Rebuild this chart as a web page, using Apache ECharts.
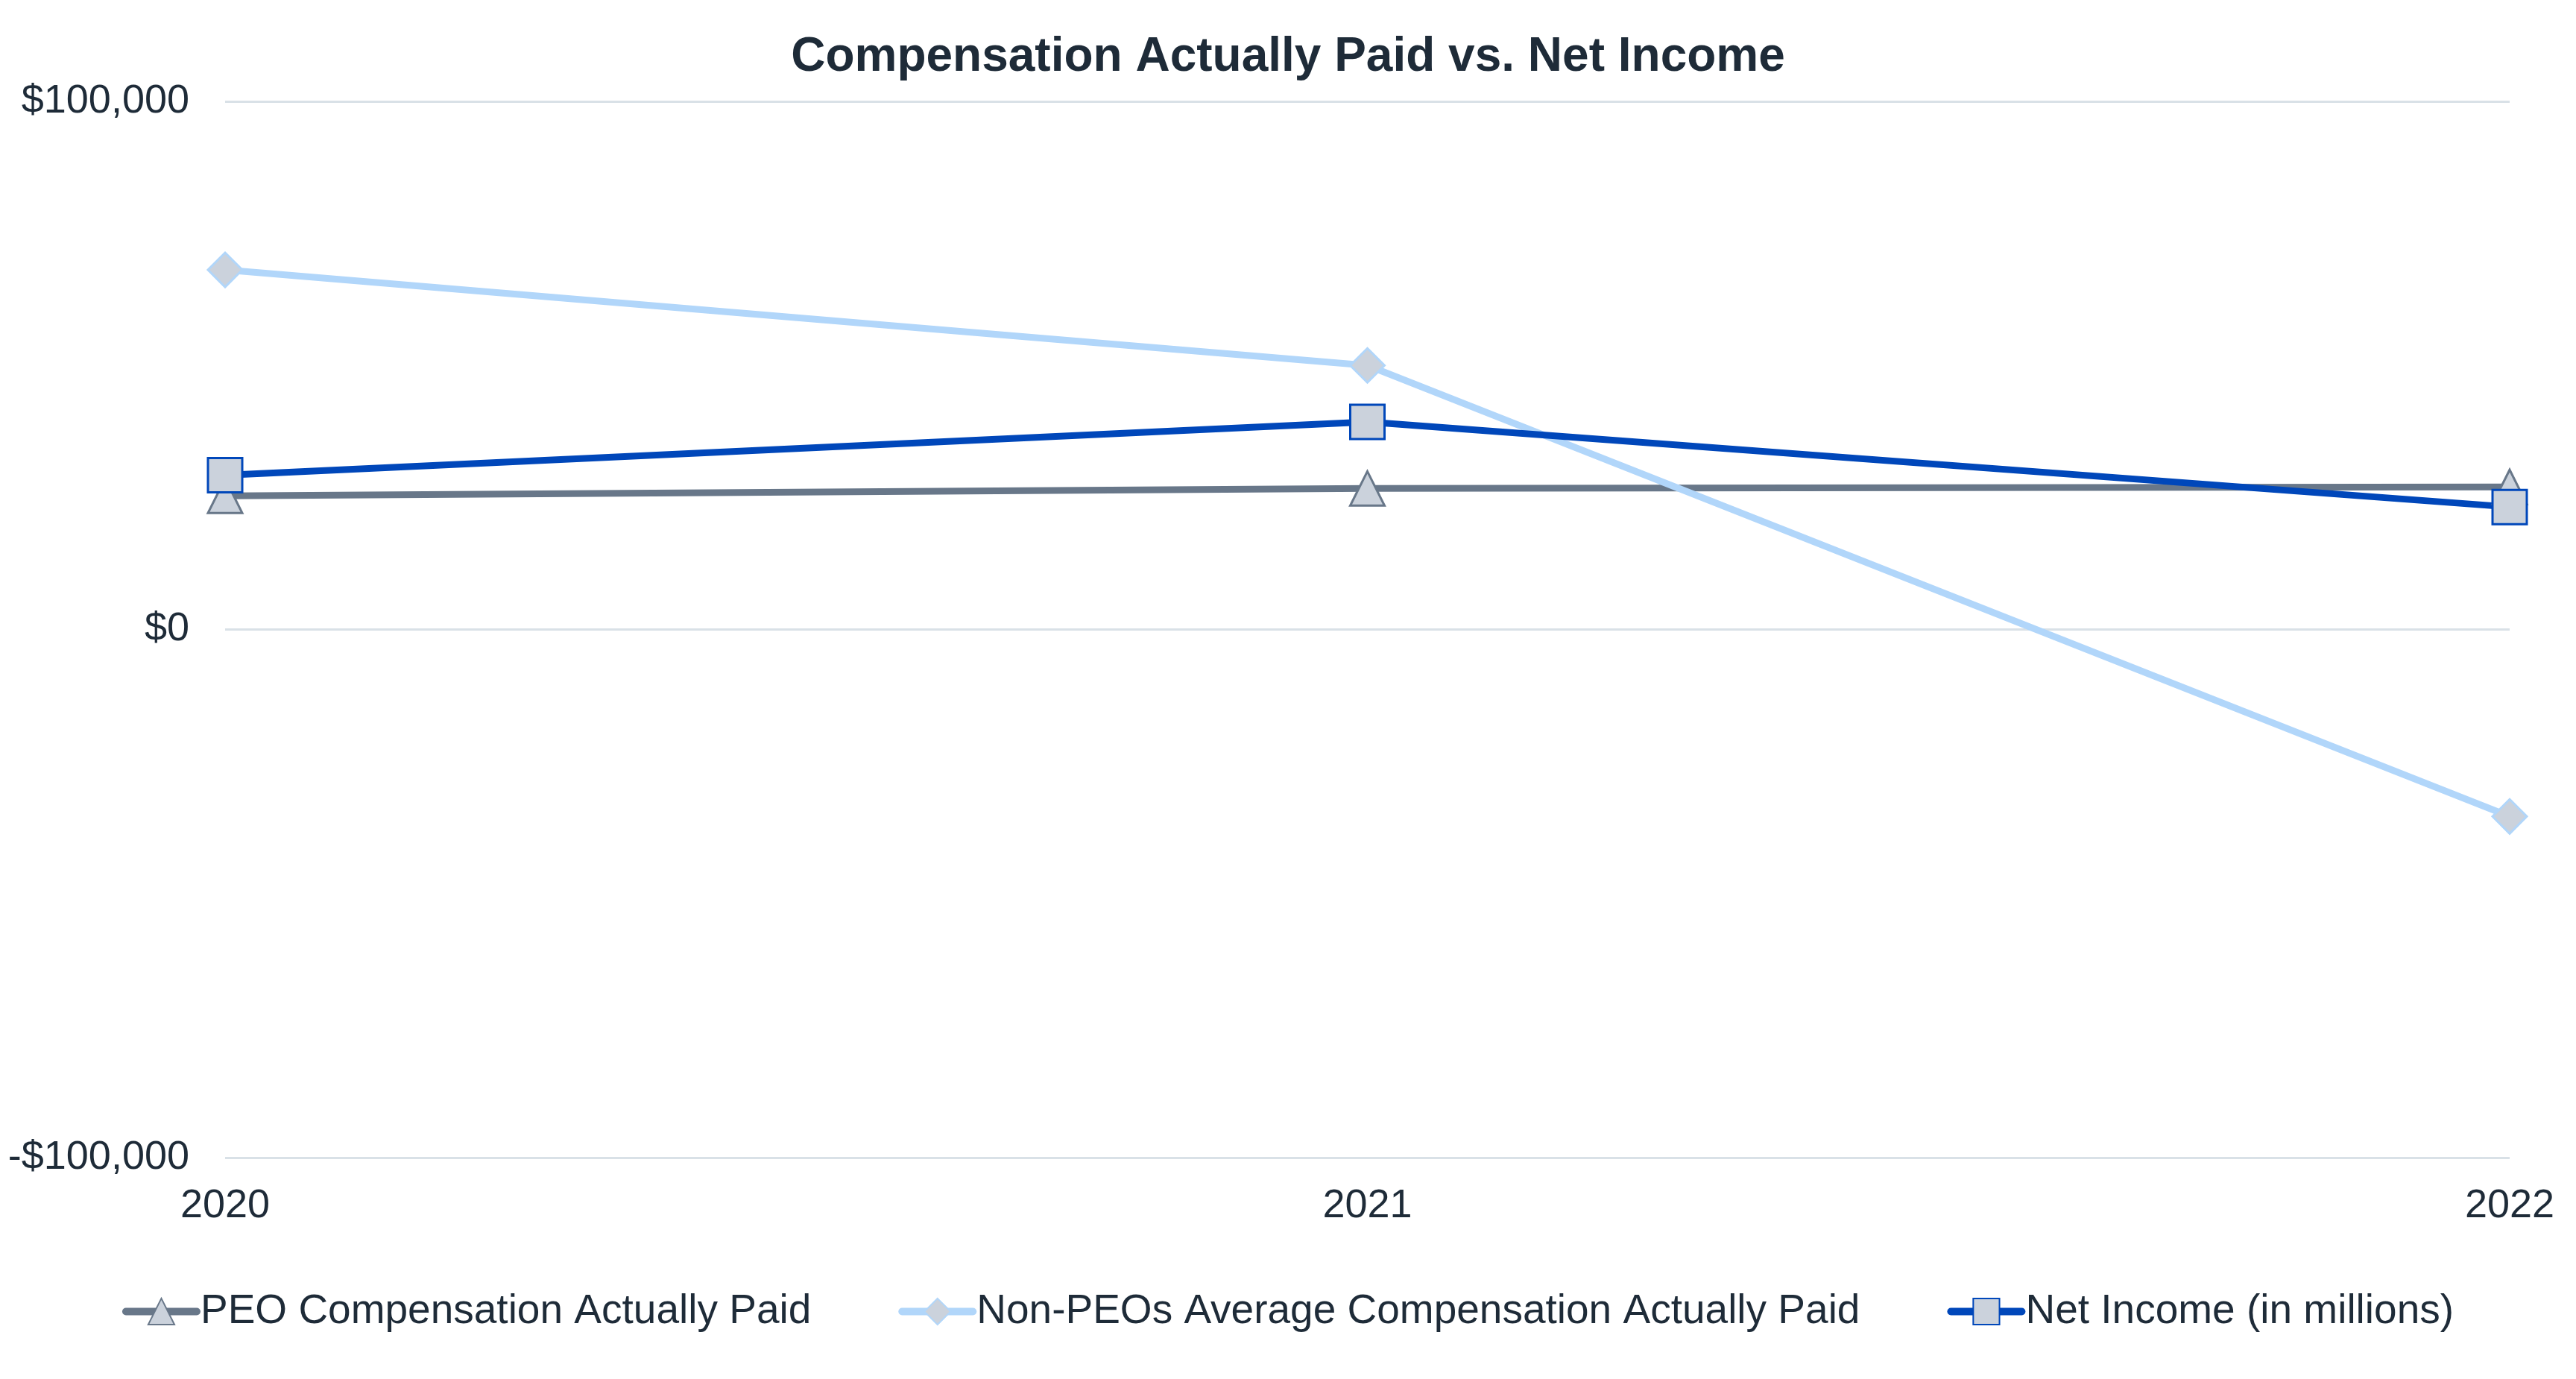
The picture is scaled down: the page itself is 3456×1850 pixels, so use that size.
<!DOCTYPE html>
<html><head><meta charset="utf-8">
<script src="https://cdn.jsdelivr.net/npm/echarts@6/dist/echarts.min.js"></script>
<style>html,body{margin:0;padding:0;background:#fff}#c{width:3456px;height:1850px}</style>
</head><body><div id="c"></div>
<script>
const years = ['2020', '2021', '2022'];
const peoCAP = [25300, 26700, 27000];
const nonPeoCAP = [68100, 50000, -35400];
const netIncome = [29200, 39300, 23200];
const yTicks = { min: -100000, max: 100000, interval: 100000 };

const chart = echarts.init(document.getElementById('c'));
const txt = '#1E2B38';
const fmt = v => (v < 0 ? '-$' : '$') + Math.abs(v).toLocaleString('en-US');
function ser(name, data, color, symbol, border) {
  return {
    name, type: 'line', data, symbol, symbolSize: 46,
    lineStyle: { color, width: 9, cap: 'round' },
    itemStyle: { color: '#CBD2DC', borderColor: border, borderWidth: 3 },
    color
  };
}
chart.setOption({
  animation: false,
  title: { text: 'Compensation Actually Paid vs. Net Income', left: 'center', top: 40,
    textStyle: { fontFamily: 'Liberation Sans', fontSize: 64, fontWeight: 'bold', color: txt } },
  grid: { left: 302, right: 89, top: 136, bottom: 297 },
  legend: { bottom: 58, left: 'center', itemWidth: 95, itemHeight: 44, itemGap: 117,
    lineStyle: { width: 10, cap: 'round' },
    textStyle: { fontFamily: 'Liberation Sans', fontSize: 55, color: txt },
    data: ['PEO Compensation Actually Paid', 'Non-PEOs Average Compensation Actually Paid', 'Net Income (in millions)'] },
  xAxis: { type: 'category', data: years, boundaryGap: false,
    axisLine: { show: false }, axisTick: { show: false },
    axisLabel: { fontFamily: 'Liberation Sans', fontSize: 54, color: txt, margin: 38 } },
  yAxis: { type: 'value', min: yTicks.min, max: yTicks.max, interval: yTicks.interval,
    axisLine: { show: false }, axisTick: { show: false },
    splitLine: { lineStyle: { color: '#D9E1E7', width: 3 } },
    axisLabel: { fontFamily: 'Liberation Sans', fontSize: 54, color: txt, margin: 48, formatter: fmt } },
  series: [
    ser('PEO Compensation Actually Paid', peoCAP, '#687789', 'triangle', '#687789'),
    ser('Non-PEOs Average Compensation Actually Paid', nonPeoCAP, '#B1D6FA', 'diamond', '#B1D6FA'),
    ser('Net Income (in millions)', netIncome, '#0047BA', 'rect', '#0047BA')
  ]
});
</script></body></html>
